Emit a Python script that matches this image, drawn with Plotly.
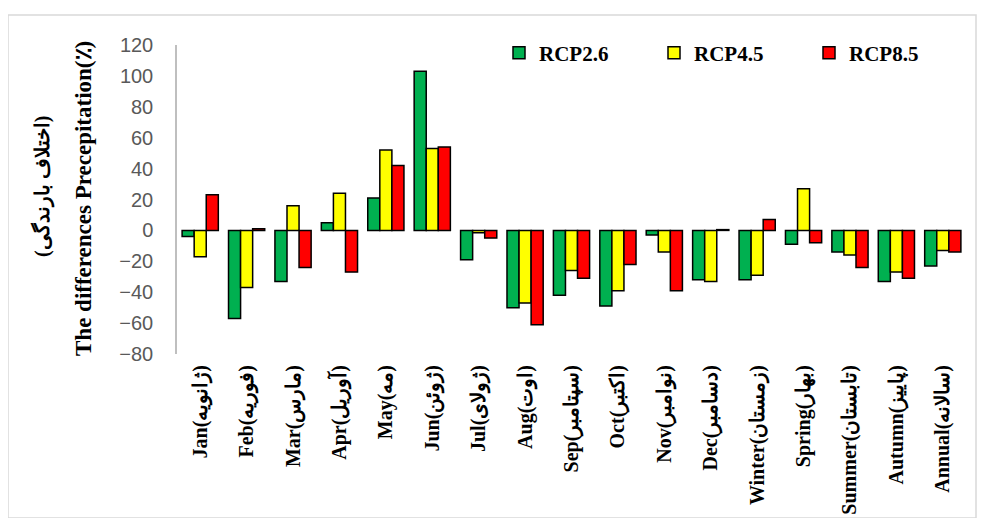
import plotly.graph_objects as go

categories = ["Jan(ژانویه)", "Feb(فوریه)", "Mar(مارس)", "Apr(آوریل)", "May(مه)", "Jun(ژوئن)",
              "Jul(ژولای)", "Aug(اوت)", "Sep(سپتامبر)", "Oct(اکتبر)", "Nov(نوامبر)", "Dec(دسامبر)",
              "Winter(زمستان)", "Spring(بهار)", "Summer(تابستان)", "Autumn(پاییز)", "Annual(سالانه)"]
rcp26 = [-4, -57, -33, 5, 21, 103, -19, -50, -42, -49, -3, -32, -32, -9, -14, -33, -23]
rcp45 = [-17, -37, 16, 24, 52, 53, -1.5, -47, -26, -39, -14, -33, -29, 27, -16, -27, -13]
rcp85 = [23, 1, -24, -27, 42, 54, -5, -61, -31, -22, -39, 0.5, 7, -8, -24, -31, -14]
series_names = ["RCP2.6", "RCP4.5", "RCP8.5"]
colors = ["#00b050", "#ffff00", "#ff0000"]
yticks = [-80, -60, -40, -20, 0, 20, 40, 60, 80, 100, 120]

fig = go.Figure()
for name, vals, col in zip(series_names, [rcp26, rcp45, rcp85], colors):
    fig.add_trace(go.Bar(x=categories, y=vals, name=name,
                         marker=dict(color=col, line=dict(color="black", width=1.5))))

serif = "Liberation Serif, Times New Roman, serif"
# page has an 8px body margin; plot area should sit at page x 177..966, y 45..354
PW, PH = 789, 309
def px(x):
    return (x - 177) / PW
def py(y):
    return (354 - y) / PH

fig.update_layout(
    width=986, height=518,
    margin=dict(l=169, r=28, t=37, b=172, autoexpand=False),
    paper_bgcolor="white", plot_bgcolor="white",
    barmode="group", bargap=0.22, bargroupgap=0,
    showlegend=True,
    legend=dict(orientation="h", x=px(499), y=py(53), xanchor="left", yanchor="middle",
                font=dict(family=serif, size=21, color="black", weight="bold"),
                entrywidth=110, entrywidthmode="pixels", bgcolor="rgba(0,0,0,0)",
                traceorder="normal"),
    xaxis=dict(type="category", tickangle=-90, showline=False, showgrid=False,
               ticks="", tickfont=dict(family=serif, size=20, color="black", weight="bold"),
               ticklabelstandoff=6, automargin=False),
    yaxis=dict(range=[-80, 120], tickvals=yticks, showgrid=False, zeroline=False,
               showline=True, linecolor="#bfbfbf", linewidth=1.5, ticks="",
               tickfont=dict(family="Liberation Sans, Arial, sans-serif", size=20, color="#595959"),
               ticklabelstandoff=18, automargin=False),
    shapes=[dict(type="rect", xref="paper", yref="paper",
                 x0=px(8), x1=px(976), y0=py(518), y1=py(15),
                 line=dict(color="#d9d9d9", width=1.5), fillcolor="rgba(0,0,0,0)", layer="below")],
    annotations=[
        dict(text="<b>The differences Precepitation(٪)</b>", xref="paper", yref="paper",
             x=px(83), y=py(199), textangle=-90, showarrow=False,
             font=dict(family=serif, size=23, color="black"), xanchor="center", yanchor="middle"),
        dict(text="(اختلاف بارندگی)", xref="paper", yref="paper",
             x=px(42), y=py(187), textangle=-90, showarrow=False,
             font=dict(family=serif, size=20, color="black", weight="bold"),
             xanchor="center", yanchor="middle"),
    ],
)
fig.write_html("out.html")
